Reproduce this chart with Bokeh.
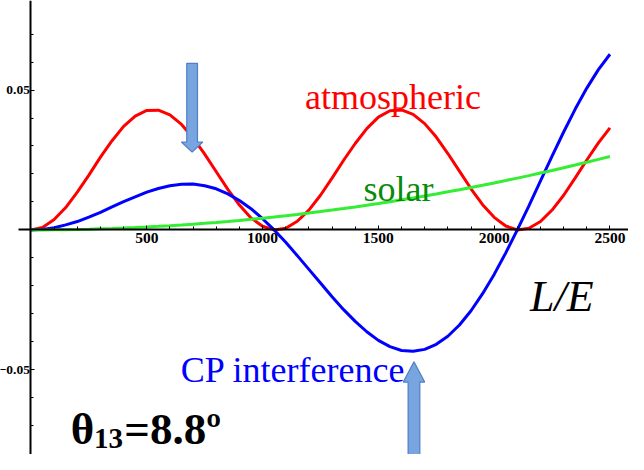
from bokeh.plotting import figure
from bokeh.models import Range1d, FixedTicker, Label
from bokeh.embed import file_html
from bokeh.resources import INLINE

# ---- data ----
L_over_E = list(range(0, 2501, 50))

atmospheric = [0.0, 0.0009, 0.0037, 0.0080, 0.0135, 0.0196, 0.0260, 0.0319, 0.0370, 0.0407,
               0.0427, 0.0428, 0.0411, 0.0377, 0.0329, 0.0271, 0.0208, 0.0145, 0.0089, 0.0043,
               0.0013, 0.0000, 0.0006, 0.0031, 0.0071, 0.0124, 0.0185, 0.0249, 0.0309, 0.0362,
               0.0403, 0.0426, 0.0429, 0.0413, 0.0380, 0.0332, 0.0273, 0.0210, 0.0147, 0.0090,
               0.0045, 0.0014, 0.0000, 0.0006, 0.0030, 0.0071, 0.0124, 0.0186, 0.0250, 0.0311,
               0.0365]

cp_interference = [0.0, 0.0002, 0.0008, 0.0018, 0.0030, 0.0046, 0.0063, 0.0082, 0.0101, 0.0118,
                   0.0135, 0.0148, 0.0158, 0.0163, 0.0164, 0.0158, 0.0147, 0.0129, 0.0105, 0.0076,
                   0.0040, 0.0000, -0.0044, -0.0092, -0.0141, -0.0190, -0.0239, -0.0285, -0.0327, -0.0364,
                   -0.0395, -0.0417, -0.0431, -0.0434, -0.0427, -0.0409, -0.0380, -0.0340, -0.0289, -0.0228,
                   -0.0159, -0.0082, 0.0000, 0.0086, 0.0175, 0.0264, 0.0350, 0.0432, 0.0507, 0.0573,
                   0.0628]

solar = [0.0, 0.00001, 0.00004, 0.00009, 0.00017, 0.00026, 0.00038, 0.00051, 0.00067, 0.00085,
         0.00105, 0.00127, 0.00151, 0.00177, 0.00206, 0.00236, 0.00269, 0.00303, 0.00340, 0.00379,
         0.00420, 0.00463, 0.00508, 0.00555, 0.00605, 0.00656, 0.00710, 0.00765, 0.00823, 0.00883,
         0.00945, 0.01009, 0.01075, 0.01143, 0.01214, 0.01286, 0.01361, 0.01437, 0.01516, 0.01597,
         0.01680, 0.01765, 0.01852, 0.01941, 0.02033, 0.02126, 0.02222, 0.02319, 0.02419, 0.02521,
         0.02625]

x_ticks = [500, 1000, 1500, 2000, 2500]
x_minor_ticks = list(range(100, 2501, 100))
y_ticks = [-0.05, 0.05]
y_minor_ticks = [-0.07, -0.06, -0.04, -0.03, -0.02, -0.01, 0.01, 0.02, 0.03, 0.04, 0.06, 0.07]

# ---- figure ----
W, H = 628, 454
X0, X1 = -131.6, 2580.0
Y0, Y1 = -0.08028, 0.08201
KX, KY = W / 644, H / 470   # canvas scale relative to the reference picture

p = figure(width=W, height=H, x_range=Range1d(X0, X1), y_range=Range1d(Y0, Y1),
           output_backend="svg", toolbar_location=None, min_border=0,
           background_fill_color="white", border_fill_color="white")
p.outline_line_color = None
p.grid.visible = False

SERIF = "Liberation Serif"

for ax in (p.xaxis[0], p.yaxis[0]):
    ax.fixed_location = 0
    ax.axis_line_color = "black"
    ax.axis_line_width = 2
    ax.major_tick_line_color = "black"
    ax.minor_tick_line_color = "black"
    ax.major_tick_out = 0
    ax.major_tick_in = 4
    ax.minor_tick_out = 0
    ax.minor_tick_in = 3
    ax.major_label_text_font = SERIF
    ax.major_label_text_font_style = "bold"
    ax.major_label_text_font_size = "15.5px"
    ax.major_label_text_color = "black"
    ax.major_label_standoff = 3

p.yaxis[0].major_label_text_font_size = "13.5px"
p.yaxis[0].major_label_standoff = 1
p.xaxis[0].ticker = FixedTicker(ticks=x_ticks, minor_ticks=x_minor_ticks)
p.yaxis[0].ticker = FixedTicker(ticks=y_ticks, minor_ticks=y_minor_ticks)
p.xaxis[0].bounds = (-56, X1)

# ---- curves ----
p.line(L_over_E, atmospheric, line_color="#ff0000", line_width=3)
p.line(L_over_E, cp_interference, line_color="#0000ff", line_width=3)
p.line(L_over_E, solar, line_color="#33ee33", line_width=3)

# ---- arrows (shape in reference pixels, anchored at tip in data units) ----
SX = W / (X1 - X0)
SY = H / (Y1 - Y0)


def arrow(tip_x, tip_y, body_up, length, head_len, shaft_hw, head_hw):
    d = 1 if body_up else -1
    pts = [(0, 0), (head_hw, head_len), (shaft_hw, head_len), (shaft_hw, length),
           (-shaft_hw, length), (-shaft_hw, head_len), (-head_hw, head_len)]
    xs = [tip_x + dx * KX / SX for dx, dy in pts]
    ys = [tip_y + d * dy * KY / SY for dx, dy in pts]
    p.patch(xs, ys, fill_color="#78a4e0", line_color="#4f7fc4", line_width=1.2)


arrow(695.8, 0.0278, True, 92, 10.5, 5.5, 11)
arrow(1653.7, -0.04713, False, 100, 21, 6, 11)

# ---- texts ----
def lab(x, y, text, size, color, style="normal"):
    p.add_layout(Label(x=x, y=y, text=text, text_font=SERIF, text_font_size=size,
                       text_color=color, text_font_style=style,
                       text_baseline="alphabetic", text_align="left"))


lab(1183, 0.04748, "atmospheric", "36px", "#ff0000")
lab(1436, 0.01468, "solar", "36px", "#0a8a0a")
lab(647, -0.05024, "CP interference", "36px", "#0000ff")
lab(2155, -0.02365, "L/E", "44px", "black", "italic")
lab(171.6, -0.07130, "θ", "45px", "black", "bold")
lab(272.6, -0.07441, "13", "29px", "black", "bold")
lab(403.2, -0.07130, "=8.8º", "45px", "black", "bold")

open("out.html", "w").write(file_html(p, INLINE))
